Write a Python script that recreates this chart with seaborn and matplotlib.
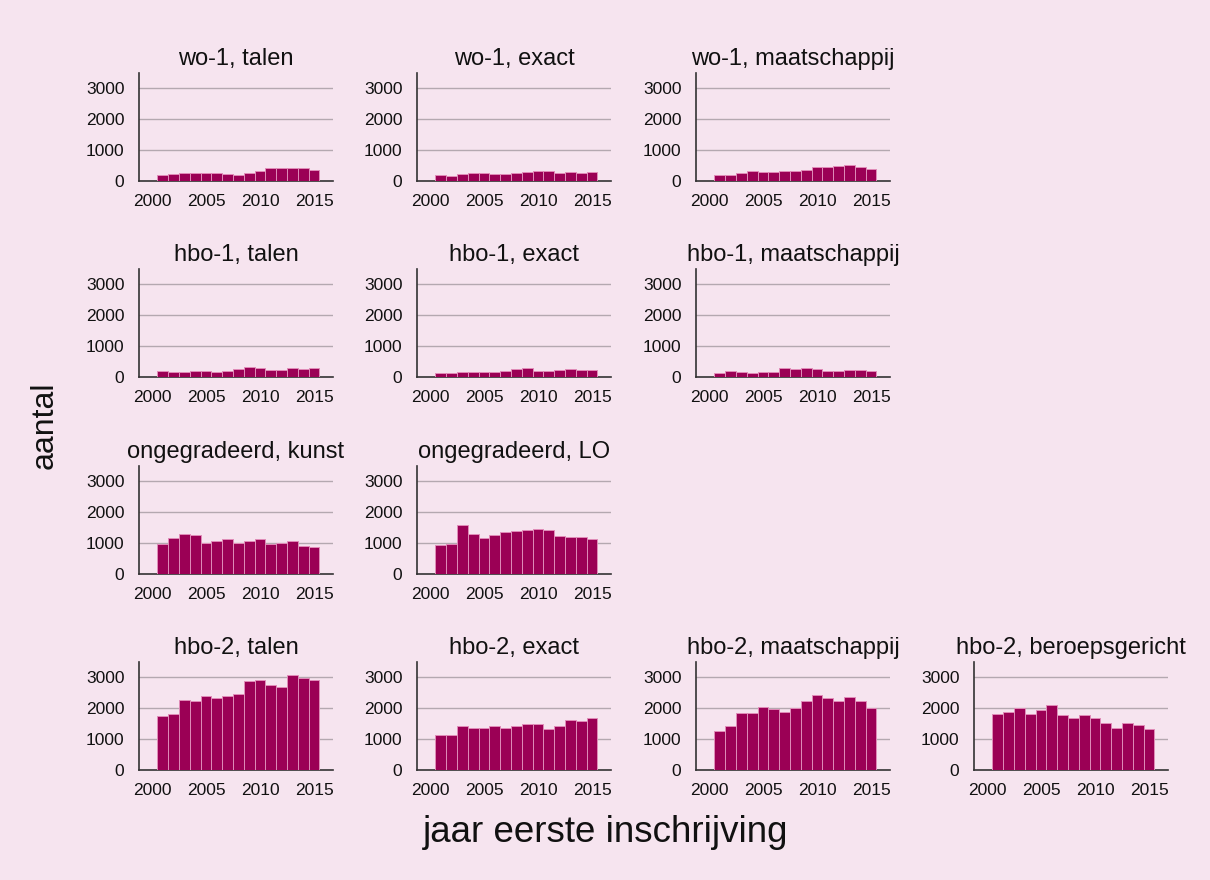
import matplotlib
matplotlib.use("Agg")
import matplotlib.pyplot as plt
import seaborn as sns
import pandas as pd
import numpy as np

# ---- data ----
years = list(range(2001, 2016))

wo1_talen = [195, 230, 260, 260, 260, 250, 230, 205, 260, 315, 410, 410, 420, 410, 360]
wo1_exact = [185, 175, 230, 270, 250, 230, 230, 270, 300, 325, 315, 250, 280, 260, 290]
wo1_maatschappij = [205, 185, 260, 325, 300, 290, 325, 325, 370, 445, 455, 490, 520, 455, 390]
hbo1_talen = [185, 165, 175, 205, 205, 165, 205, 270, 315, 280, 240, 230, 280, 250, 280]
hbo1_exact = [120, 130, 165, 150, 165, 150, 205, 250, 295, 205, 185, 230, 250, 230, 230]
hbo1_maatschappij = [140, 185, 165, 130, 165, 150, 295, 270, 280, 250, 205, 195, 240, 230, 205]
onge_kunst = [960, 1170, 1290, 1260, 1020, 1085, 1130, 1010, 1065, 1120, 980, 990, 1075, 905, 860]
onge_lo = [950, 970, 1590, 1290, 1180, 1270, 1370, 1380, 1420, 1460, 1430, 1240, 1215, 1215, 1130]
hbo2_talen = [1735, 1820, 2265, 2245, 2395, 2340, 2405, 2450, 2880, 2915, 2740, 2675, 3075, 2970, 2915]
hbo2_exact = [1150, 1150, 1440, 1345, 1355, 1410, 1375, 1420, 1505, 1505, 1335, 1420, 1615, 1590, 1700]
hbo2_maatschappij = [1255, 1440, 1850, 1850, 2055, 1980, 1895, 2010, 2240, 2435, 2330, 2230, 2360, 2250, 2000]
hbo2_beroeps = [1800, 1895, 2000, 1800, 1950, 2100, 1785, 1670, 1775, 1670, 1525, 1355, 1515, 1470, 1335]

panel_titles = [
    "wo-1, talen", "wo-1, exact", "wo-1, maatschappij",
    "hbo-1, talen", "hbo-1, exact", "hbo-1, maatschappij",
    "ongegradeerd, kunst", "ongegradeerd, LO",
    "hbo-2, talen", "hbo-2, exact", "hbo-2, maatschappij", "hbo-2, beroepsgericht",
]
panel_values = [
    wo1_talen, wo1_exact, wo1_maatschappij,
    hbo1_talen, hbo1_exact, hbo1_maatschappij,
    onge_kunst, onge_lo,
    hbo2_talen, hbo2_exact, hbo2_maatschappij, hbo2_beroeps,
]
panel_cells = [(0, 0), (0, 1), (0, 2),
               (1, 0), (1, 1), (1, 2),
               (2, 0), (2, 1),
               (3, 0), (3, 1), (3, 2), (3, 3)]

xtick_values = [2000, 2005, 2010, 2015]
ytick_values = [0, 1000, 2000, 3000]
x_title = "jaar eerste inschrijving"
y_title = "aantal"

# ---- style ----
BG = "#F6E4EF"
BAR = "#9B0055"
EDGE = "#E08CB8"
GRID = "#B4A8B0"
AX = "#333333"

sns.set_theme(style="white")
plt.rcParams["font.family"] = ["Liberation Sans", "DejaVu Sans"]
plt.rcParams["figure.facecolor"] = BG
plt.rcParams["axes.facecolor"] = BG
plt.rcParams["savefig.facecolor"] = BG

W, H = 1210, 880
fig = plt.figure(figsize=(W / 100, H / 100), dpi=100)

col_left = [139, 417, 696, 974]
row_bottom = [181, 377, 574, 770]
ax_w, ax_h = 194, 108

for title, vals, (r, c) in zip(panel_titles, panel_values, panel_cells):
    ax = fig.add_axes([col_left[c] / W, 1 - row_bottom[r] / H, ax_w / W, ax_h / H])
    df = pd.DataFrame({"jaar": years, "aantal": vals})
    sns.barplot(data=df, x="jaar", y="aantal", native_scale=True, width=1.0,
                color=BAR, saturation=1, edgecolor=EDGE, linewidth=0.7, ax=ax, zorder=3)
    ax.set_xlim(1998.8, 2016.75)
    ax.set_ylim(0, 3500)
    ax.set_xticks(xtick_values)
    ax.set_yticks(ytick_values)
    ax.set_xticklabels([str(v) for v in xtick_values])
    ax.set_yticklabels([str(v) for v in ytick_values])
    for yv in ytick_values[1:]:
        ax.axhline(yv, color=GRID, lw=1.0, zorder=1)
    ax.set_xlabel("")
    ax.set_ylabel("")
    ax.set_title(title, fontsize=17, pad=6, color="#111111")
    for s in ["top", "right"]:
        ax.spines[s].set_visible(False)
    for s in ["left", "bottom"]:
        ax.spines[s].set_color(AX)
        ax.spines[s].set_linewidth(1.2)
    ax.tick_params(axis="both", which="major", length=6.5, width=1.2, color=AX,
                   labelsize=12.5, labelcolor="#111111", direction="out", pad=4)
    ax.tick_params(axis="x", pad=3)
    ax.set_facecolor(BG)

fig.text(606 / W, 1 - 832 / H, x_title, ha="center", va="center", fontsize=26.5, color="#111111")
fig.text(45 / W, 1 - 425 / H, y_title, ha="center", va="center", rotation=90, fontsize=23, color="#111111")

fig.savefig("out.png", dpi=100, facecolor=BG)
